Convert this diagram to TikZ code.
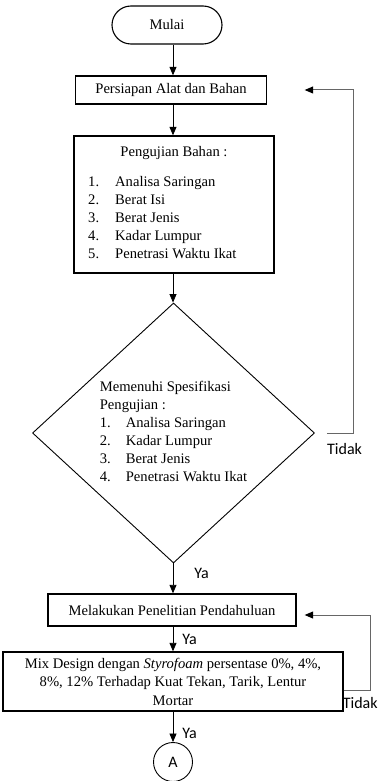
\documentclass[tikz,border=0pt]{standalone}
\usepackage{fontspec}
\setmainfont{Liberation Serif}
\newfontfamily\labelfont{Carlito}
\usetikzlibrary{shapes,arrows.meta,positioning,calc}

\tikzset{
  procbox/.style={draw, line width=1.3pt, rectangle, inner sep=0pt, align=center},
  term/.style={draw, line width=1.1pt, rounded corners=19pt, minimum width=110pt, minimum height=38pt},
  decision/.style={draw, line width=0.9pt, diamond, inner sep=0pt, aspect=1.085,
    minimum width=282pt, minimum height=260pt},
  conn/.style={line width=0.8pt, -{Triangle[length=8.5pt,width=7pt]}},
  back/.style={line width=1pt, draw=black!60, -{Triangle[length=8.5pt,width=7pt,color=black]}},
  lbl/.style={font=\labelfont\fontsize{16}{18}\selectfont, inner sep=0pt},
}

\begin{document}
\begin{tikzpicture}[x=1pt, y=-1pt, font=\fontsize{14.6}{18}\selectfont]
\useasboundingbox (0,0) rectangle (385,781);
\coordinate (axis) at (173,0);

% Start
\node[term] (start) at (167,25) {Mulai};

% Persiapan
\node[procbox, minimum width=191pt, minimum height=28pt] (prep) at (171,90) {Persiapan Alat dan Bahan};

% Pengujian bahan
\node[procbox, minimum width=200pt, minimum height=137pt] (test) at (174,204.5) {};
\node[anchor=base, inner sep=0pt] (testhead) at (174,157) {Pengujian Bahan :};
\node[anchor=base west, inner sep=0pt] (testlist) at (88,186) {\begin{tabular}[t]{@{}p{27pt}@{}l@{}}
1. & Analisa Saringan\\
2. & Berat Isi\\
3. & Berat Jenis\\
4. & Kadar Lumpur\\
5. & Penetrasi Waktu Ikat
\end{tabular}};

% Spesifikasi
\node[decision] (dec) at (173.5,433) {\begin{tabular}{@{}p{26pt}@{}l@{}}
\multicolumn{2}{@{}l@{}}{Memenuhi Spesifikasi}\\
\multicolumn{2}{@{}l@{}}{Pengujian :}\\
1. & Analisa Saringan\\
2. & Kadar Lumpur\\
3. & Berat Jenis\\
4. & Penetrasi Waktu Ikat
\end{tabular}};

% Penelitian pendahuluan
\node[procbox, minimum width=248pt, minimum height=32pt] (pre) at (172,610) {Melakukan Penelitian Pendahuluan};

% Mix design
\node[procbox, minimum width=340pt, minimum height=59pt, font=\fontsize{14.6}{18.5}\selectfont] (mix) at (173,681.5)
  {Mix Design dengan \textit{Styrofoam} persentase 0\%, 4\%,\\ 8\%, 12\% Terhadap Kuat Tekan, Tarik, Lentur\\ Mortar};

% Connector A
\node[draw, circle, line width=0.9pt, minimum size=39pt, inner sep=0pt, font=\labelfont\fontsize{16}{18}\selectfont] (conA) at (173,762) {A};

% Arrows
\draw[conn] (start.south -| axis) -- (prep.north -| axis);
\draw[conn] (prep.south -| axis) -- (test.north -| axis);
\draw[conn] (test.south -| axis) -- (dec.north -| axis);
\draw[conn] (dec.south -| axis) -- node[lbl, pos=.33, right=21pt] (ya1) {Ya} (pre.north -| axis);
\draw[conn] (pre.south -| axis) -- node[lbl, right=9pt] (ya2) {Ya} (mix.north -| axis);
\draw[conn] (mix.south -| axis) -- node[lbl, pos=.7, right=9pt] (ya3) {Ya} (conA.north);

% Feedback
\draw[back] ([xshift=12pt]dec.east) -| ([xshift=86.5pt]prep.east) -- ([xshift=37.5pt]prep.east);
\node[lbl, anchor=west] (no1) at ([xshift=12pt,yshift=-16pt]dec.east) {Tidak};
\draw[back] ([yshift=-9pt]mix.east) -| ([xshift=74pt,yshift=-5pt]pre.east) -- ([xshift=8pt,yshift=-5pt]pre.east);
\node[lbl, anchor=west] (no2) at ([xshift=-1pt,yshift=-21.5pt]mix.east) {Tidak};
\end{tikzpicture}
\end{document}
